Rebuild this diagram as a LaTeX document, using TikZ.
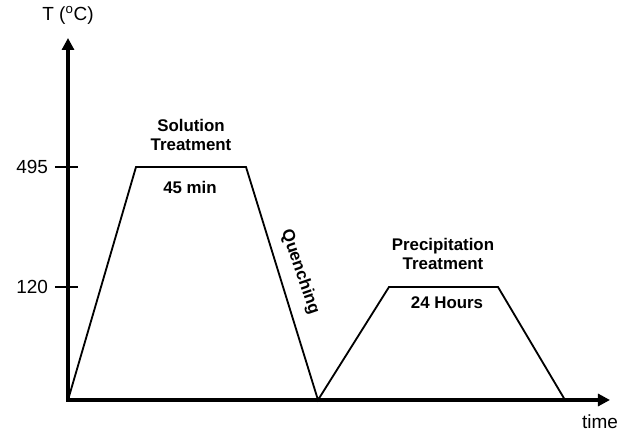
\documentclass[tikz,border=0pt]{standalone}
\usepackage{fontspec}
\setmainfont{Liberation Sans}
\usetikzlibrary{arrows.meta}

\begin{document}
\begin{tikzpicture}[x=0.025cm,y=0.025cm,line width=1.3pt,>={Triangle[length=3mm,width=3mm]},
  lbl/.style={font=\fontsize{12}{14}\selectfont\bfseries},
  num/.style={font=\fontsize{13.5}{15}\selectfont}]
  \useasboundingbox (-68,-33) rectangle (553,400);
  % axes
  \draw[->,line width=2.8pt] (0,-2)--(0,362) node[above=5pt,num]{T (\textsuperscript{o}C)};
  \draw[->,line width=2.8pt] (-1.5,0)--(542,0);
  \node[num] at (532,-22){time};
  % ticks
  \draw (-13,233)--(10,233) node[pos=0,left=1pt,num]{495};
  \draw (-13,113)--(10,113) node[pos=0,left=1pt,num]{120};
  % heat treatment cycle
  \draw[line join=miter] (0,0)--(68,233)--(178,233)--(250,0)--(321,113)--(430,113)--(497,0);
  \node[lbl,align=center] at (123,265){Solution\\Treatment};
  \node[lbl] at (122,213){45 min};
  \node[lbl,rotate=-71,inner sep=1pt] at (232,128){Quenching};
  \node[lbl,align=center] at (375,146){Precipitation\\Treatment};
  \node[lbl] at (379,97){24 Hours};
\end{tikzpicture}
\end{document}
